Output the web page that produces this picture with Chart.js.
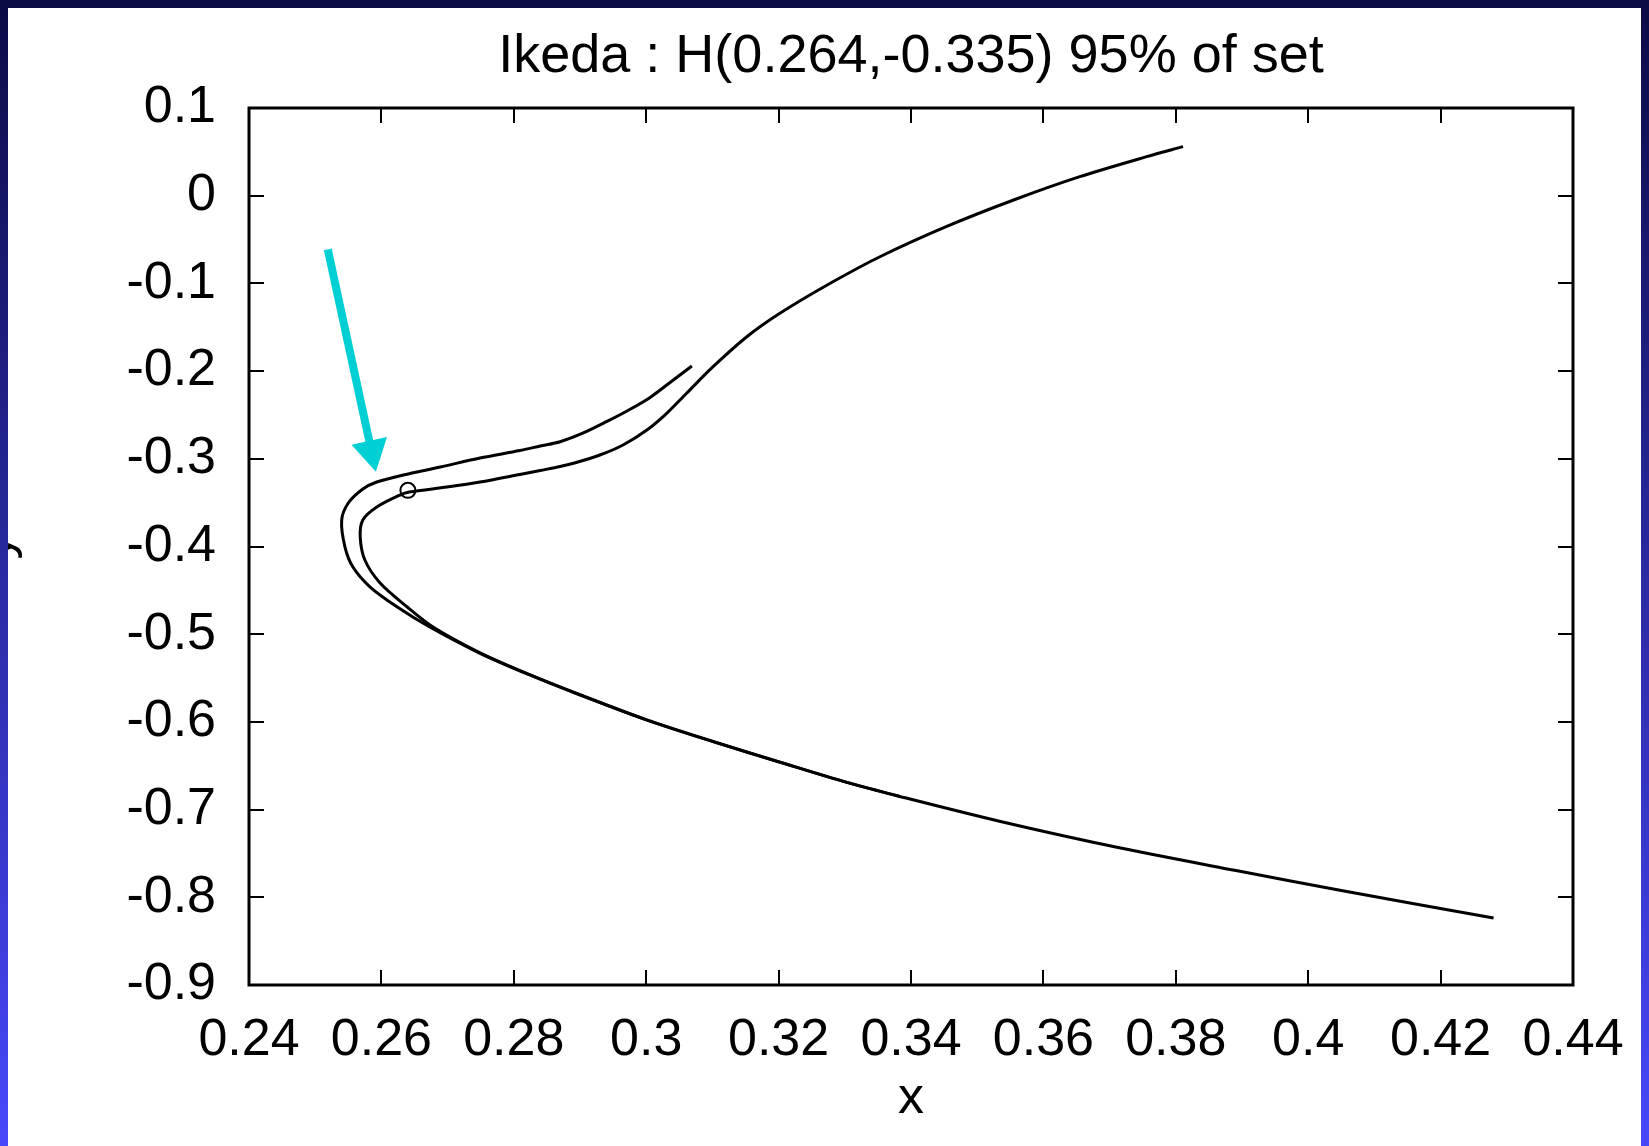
<!DOCTYPE html>
<html>
<head>
<meta charset="utf-8">
<title>Ikeda</title>
<script src="https://cdn.jsdelivr.net/npm/chart.js@4"></script>
<style>
  html, body { margin: 0; padding: 0; width: 1649px; height: 1146px; overflow: hidden; }
  body { position: relative; background: linear-gradient(to bottom, #0b0b46 0%, #2a2aa2 50%, #4848fb 100%); }
  #panel { position: absolute; left: 8px; top: 8px; right: 8px; bottom: 0; background: #fff; overflow: hidden; }
  #ikeda { position: absolute; left: -43px; top: -8px; }
</style>
</head>
<body>
<div id="panel"><canvas id="ikeda" width="1684" height="1146"></canvas></div>
<script>
// valeurs
var outerX = [0.3069, 0.3041, 0.3006, 0.2971, 0.2940, 0.2905, 0.2870, 0.2840, 0.2809, 0.2749, 0.2689,
  0.2633, 0.2593, 0.2572, 0.2550, 0.2540, 0.2545, 0.2557, 0.2583, 0.2624, 0.2673, 0.2749, 0.2824,
  0.2900, 0.3001, 0.3101, 0.3202, 0.3303, 0.3383, 0.3532, 0.3711, 0.3891, 0.4052, 0.4280];
var outerY = [-0.1942, -0.2101, -0.2300, -0.2455, -0.2577, -0.2705, -0.2805, -0.2854, -0.2906, -0.2991, -0.3094,
  -0.3185, -0.3265, -0.3344, -0.3504, -0.3698, -0.4006, -0.4234, -0.4462, -0.4690, -0.4918, -0.5218, -0.5465,
  -0.5693, -0.5979, -0.6225, -0.6460, -0.6690, -0.6850, -0.7130, -0.7430, -0.7695, -0.7925, -0.8237];

var innerX = [0.3811, 0.3756, 0.3655, 0.3555, 0.3454, 0.3353, 0.3278, 0.3202, 0.3152, 0.3101, 0.3061,
  0.3031, 0.3001, 0.2965, 0.2930, 0.2889, 0.2870, 0.2840, 0.2809, 0.2749, 0.2699, 0.2642, 0.2628,
  0.2593, 0.2572, 0.2568, 0.2575, 0.2598, 0.2639, 0.2678, 0.2749, 0.2824, 0.2900, 0.3001, 0.3101,
  0.3202, 0.3303, 0.3383];
var innerY = [0.0559, 0.0445, 0.0217, -0.0049, -0.0350, -0.0696, -0.0999, -0.1341, -0.1608, -0.1950, -0.2253,
  -0.2481, -0.2672, -0.2843, -0.2957, -0.3054, -0.3088, -0.3133, -0.3179, -0.3265, -0.3322, -0.3379, -0.3413,
  -0.3550, -0.3698, -0.3892, -0.4154, -0.4416, -0.4690, -0.4918, -0.5212, -0.5461, -0.5690, -0.5977, -0.6223,
  -0.6459, -0.6690, -0.6850];

var pointHX = [0.264];
var pointHY = [-0.336];

var arrowX = [0.2519, 0.2585];
var arrowY = [-0.0611, -0.2913];

var xTicks = [0.24, 0.26, 0.28, 0.3, 0.32, 0.34, 0.36, 0.38, 0.4, 0.42, 0.44];
var yTicks = [0.1, 0, -0.1, -0.2, -0.3, -0.4, -0.5, -0.6, -0.7, -0.8, -0.9];

function pts(xs, ys) {
  var out = [];
  for (var i = 0; i < xs.length; i++) out.push({ x: xs[i], y: ys[i] });
  return out;
}

var font = "'Liberation Sans', Arial, Helvetica, sans-serif";

// cadre façon gnuplot, graduations vers l'intérieur
var frame = {
  id: 'frame',
  afterDraw: function (chart) {
    var ctx = chart.ctx, a = chart.chartArea;
    var sx = chart.scales.x, sy = chart.scales.y;
    ctx.save();
    ctx.strokeStyle = '#000';
    ctx.lineWidth = 2;
    ctx.beginPath();
    sx.ticks.forEach(function (t) {
      var p = Math.round(sx.getPixelForValue(t.value));
      ctx.moveTo(p, a.bottom); ctx.lineTo(p, a.bottom - 15);
      ctx.moveTo(p, a.top); ctx.lineTo(p, a.top + 15);
    });
    sy.ticks.forEach(function (t) {
      var p = Math.round(sy.getPixelForValue(t.value));
      ctx.moveTo(a.left, p); ctx.lineTo(a.left + 15, p);
      ctx.moveTo(a.right, p); ctx.lineTo(a.right - 15, p);
    });
    ctx.stroke();
    ctx.lineWidth = 3;
    ctx.strokeRect(a.left, a.top, a.right - a.left, a.bottom - a.top);
    ctx.restore();
  }
};

Chart.defaults.color = '#000';
Chart.defaults.font.family = font;

var ctx = document.getElementById('ikeda').getContext('2d');
var ikedaChart = new Chart(ctx, {
  type: 'scatter',
  data: {
    datasets: [
      {
        // tête de flèche
        data: pts([arrowX[1]], [arrowY[1]]),
        pointStyle: 'triangle',
        pointRadius: 21,
        pointRotation: 167.8,
        pointBackgroundColor: '#00cfd3',
        pointBorderWidth: 0,
        showLine: false
      },
      {
        data: pts(arrowX, arrowY),
        showLine: true,
        borderColor: '#00cfd3',
        borderWidth: 8,
        borderCapStyle: 'butt',
        pointRadius: 0
      },
      {
        data: pts(pointHX, pointHY),
        pointStyle: 'circle',
        pointRadius: 7.5,
        pointBorderColor: '#000',
        pointBorderWidth: 2,
        pointBackgroundColor: 'rgba(0,0,0,0)',
        showLine: false
      },
      {
        data: pts(outerX, outerY),
        showLine: true,
        borderColor: '#000',
        borderWidth: 3,
        tension: 0.3,
        borderJoinStyle: 'round',
        pointRadius: 0
      },
      {
        data: pts(innerX, innerY),
        showLine: true,
        borderColor: '#000',
        borderWidth: 3,
        tension: 0.3,
        borderJoinStyle: 'round',
        pointRadius: 0
      }
    ]
  },
  options: {
    responsive: false,
    animation: false,
    devicePixelRatio: 1,
    layout: { padding: { left: 0, right: 76, top: 0, bottom: 0 } },
    plugins: {
      legend: { display: false },
      tooltip: { enabled: false },
      title: {
        display: true,
        text: 'Ikeda : H(0.264,-0.335) 95% of set',
        fullSize: false,
        color: '#000',
        font: { family: font, size: 54, weight: 'normal' },
        padding: { top: 25, bottom: 18.2 }
      }
    },
    scales: {
      x: {
        type: 'linear',
        min: 0.24,
        max: 0.44,
        afterBuildTicks: function (scale) {
          scale.ticks = xTicks.map(function (v) { return { value: v }; });
        },
        afterFit: function (scale) { scale.height = 161; },
        grid: { display: false, drawTicks: false },
        border: { display: false },
        ticks: {
          padding: 24,
          maxRotation: 0,
          autoSkip: false,
          font: { size: 52 },
          callback: function (v) { return String(Number(v.toFixed(2))); }
        },
        title: { display: true, text: 'x', font: { size: 52 }, padding: { top: 0, bottom: 16 } }
      },
      y: {
        type: 'linear',
        min: -0.9,
        max: 0.1,
        afterBuildTicks: function (scale) {
          scale.ticks = yTicks.map(function (v) { return { value: v }; });
        },
        afterFit: function (scale) { scale.width = 284; },
        grid: { display: false, drawTicks: false },
        border: { display: false },
        ticks: {
          padding: 33,
          autoSkip: false,
          font: { size: 52 },
          callback: function (v) { return String(Number(v.toFixed(1))); }
        },
        title: { display: true, text: 'y', font: { size: 52 }, padding: { top: 0, bottom: 0 } }
      }
    }
  },
  plugins: [frame]
});
</script>
</body>
</html>
